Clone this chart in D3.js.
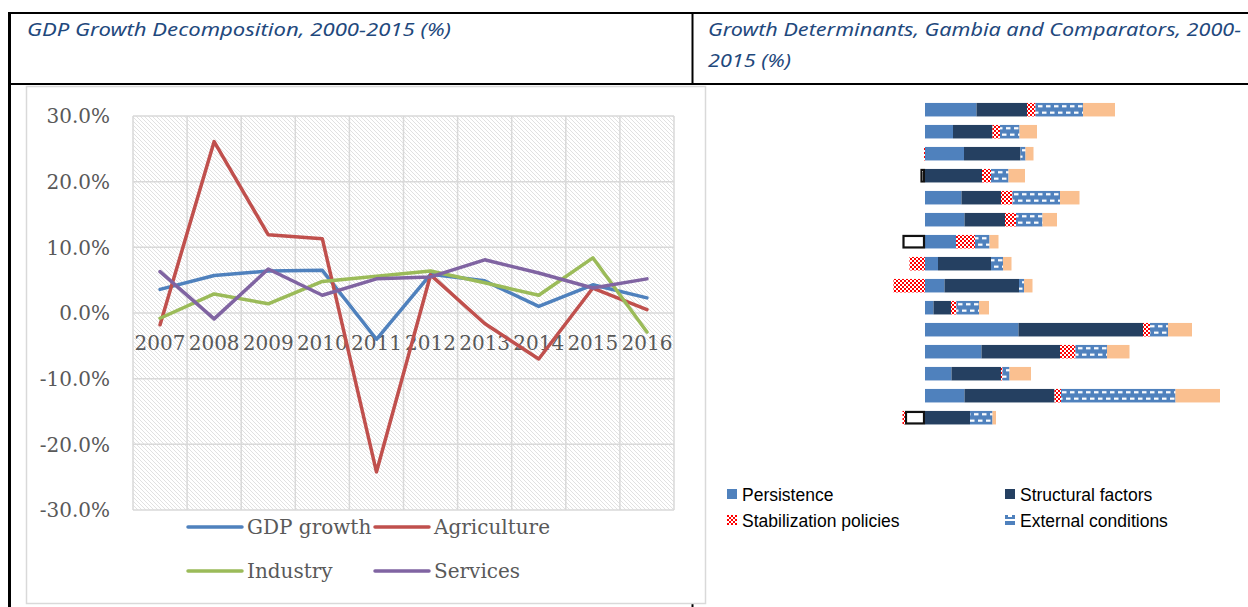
<!DOCTYPE html>
<html><head><meta charset="utf-8">
<script src="https://cdn.jsdelivr.net/npm/d3@7"></script>
<style>html,body{margin:0;padding:0;background:#fff;overflow:hidden}svg{display:block}</style>
</head><body><svg id="c" width="1248" height="607"></svg>
<script>
// ---------- Left chart data ----------
const years = ["2007","2008","2009","2010","2011","2012","2013","2014","2015","2016"];
const gdpGrowth   = [3.6, 5.7, 6.4, 6.5, -4.0, 5.9, 4.9, 1.0, 4.3, 2.3];
const agriculture = [-1.8, 26.1, 11.9, 11.3, -24.2, 5.8, -1.6, -7.0, 3.8, 0.5];
const industry    = [-0.8, 2.9, 1.4, 4.8, 5.6, 6.4, 4.6, 2.7, 8.4, -2.9];
const services    = [6.3, -0.9, 6.7, 2.7, 5.2, 5.5, 8.1, 6.1, 3.8, 5.2];
const yTicks = [30, 20, 10, 0, -10, -20, -30];
const lineSeriesNames = ["GDP growth", "Agriculture", "Industry", "Services"];

// ---------- Right chart data (15 rows, Gambia and comparators) ----------
const rowIds = d3.range(1, 16).map(String);
const persistence   = [1.03, 0.56, 0.78, -0.09, 0.73, 0.79, 0.62, 0.26, 0.39, 0.17, 1.87, 1.13, 0.53, 0.79, -0.40];
const structural    = [1.01, 0.79, 1.13, 1.14, 0.79, 0.81, -0.45, 1.06, 1.49, 0.35, 2.49, 1.57, 0.99, 1.80, 0.90];
const stabilization = [0.17, 0.15, -0.02, 0.18, 0.23, 0.22, 0.38, -0.31, -0.63, 0.11, 0.14, 0.31, 0.03, 0.13, -0.05];
const external      = [0.95, 0.39, 0.10, 0.35, 0.95, 0.53, 0.29, 0.24, 0.10, 0.45, 0.36, 0.63, 0.14, 2.29, 0.45];
const other         = [0.64, 0.35, 0.16, 0.33, 0.39, 0.29, 0.18, 0.17, 0.17, 0.20, 0.48, 0.45, 0.43, 0.89, 0.07];
const barKeys = ["Persistence", "Structural factors", "Stabilization policies", "External conditions", "Other"];
const legendKeys = ["Persistence", "Structural factors", "Stabilization policies", "External conditions"];

const svg = d3.select("#c");
const defs = svg.append("defs");

// hatch pattern for plot area
const hatch = defs.append("pattern").attr("id","hatch").attr("patternUnits","userSpaceOnUse")
  .attr("width",4).attr("height",4);
hatch.append("rect").attr("width",4).attr("height",4).attr("fill","#fff");
hatch.append("path").attr("d","M0,0L4,4M-1,3L1,5M3,-1L5,1").attr("stroke","#d9d9d9").attr("stroke-width",0.8);

// checker pattern
const chk = defs.append("pattern").attr("id","checker").attr("patternUnits","userSpaceOnUse")
  .attr("width",4).attr("height",4);
chk.append("rect").attr("width",4).attr("height",4).attr("fill","#fff");
chk.append("rect").attr("width",2).attr("height",2).attr("fill","#ff0000");
chk.append("rect").attr("x",2).attr("y",2).attr("width",2).attr("height",2).attr("fill","#ff0000");

// ---------- Table frame & headers ----------
const frame = svg.append("g");
frame.append("line").attr("x1",8).attr("x2",1248).attr("y1",13).attr("y2",13).attr("stroke","#000").attr("stroke-width",2);
frame.append("line").attr("x1",8).attr("x2",1248).attr("y1",84).attr("y2",84).attr("stroke","#000").attr("stroke-width",2);
frame.append("line").attr("x1",9.5).attr("x2",9.5).attr("y1",12).attr("y2",607).attr("stroke","#000").attr("stroke-width",3);
frame.append("line").attr("x1",692.5).attr("x2",692.5).attr("y1",12).attr("y2",85).attr("stroke","#000").attr("stroke-width",2);
frame.append("line").attr("x1",692.5).attr("x2",692.5).attr("y1",604).attr("y2",607).attr("stroke","#000").attr("stroke-width",2);

const hdrStyle = s => s.attr("font-family","'Noto Sans', sans-serif").attr("font-style","italic")
  .attr("font-size",18).attr("fill","#1F497D").attr("lengthAdjust","spacingAndGlyphs");
frame.append("text").attr("x",27).attr("y",36).attr("textLength",424).call(hdrStyle)
  .text("GDP Growth Decomposition, 2000-2015 (%)");
frame.append("text").attr("x",708).attr("y",36).attr("textLength",533).call(hdrStyle)
  .text("Growth Determinants, Gambia and Comparators, 2000-");
frame.append("text").attr("x",708).attr("y",67).attr("textLength",83).call(hdrStyle)
  .text("2015 (%)");

// chart box (left)
svg.append("rect").attr("x",26.5).attr("y",86.5).attr("width",679).attr("height",517)
  .attr("fill","none").attr("stroke","#d9d9d9").attr("stroke-width",1.5);

// ---------- Left line chart ----------
const L = {left:133, right:674, top:116, bottom:510};
const x = d3.scaleBand().domain(years).range([L.left, L.right]);
const y = d3.scaleLinear().domain([-30, 30]).range([L.bottom, L.top]);
const lg = svg.append("g");
lg.append("rect").attr("x",L.left).attr("y",L.top).attr("width",L.right-L.left).attr("height",L.bottom-L.top)
  .attr("fill","url(#hatch)");
// grid
const edges = years.map(d => x(d)).concat([L.right]);
lg.selectAll("line.v").data(edges).join("line").attr("class","v")
  .attr("x1",d=>d).attr("x2",d=>d).attr("y1",L.top).attr("y2",L.bottom)
  .attr("stroke","#d9d9d9").attr("stroke-width",1.5);
lg.selectAll("line.h").data(yTicks).join("line").attr("class","h")
  .attr("x1",L.left).attr("x2",L.right).attr("y1",d=>y(d)).attr("y2",d=>y(d))
  .attr("stroke","#d9d9d9").attr("stroke-width",1.5);
// y labels
const fmt = d => d3.format(".1f")(d).replace("\u2212", "-") + "%";
lg.selectAll("text.yl").data(yTicks).join("text").attr("class","yl")
  .attr("x",110).attr("y",d=>y(d)).attr("dy","0.36em").attr("text-anchor","end")
  .attr("font-family","'DejaVu Serif', serif").attr("font-size",20).attr("fill","#595959")
  .text(fmt);
// x labels
lg.selectAll("text.xl").data(years).join("text").attr("class","xl")
  .attr("x",d=>x(d)+x.bandwidth()/2).attr("y",350).attr("text-anchor","middle")
  .attr("font-family","'DejaVu Serif', serif").attr("font-size",20).attr("fill","#595959")
  .text(d=>d);
// lines
const lineData = [gdpGrowth, agriculture, industry, services];
const lineColors = ["#4f81bd", "#c0504d", "#9bbb59", "#8064a2"];
const lineGen = d3.line().x((d,i)=>x(years[i])+x.bandwidth()/2).y(d=>y(d));
lg.selectAll("path.ln").data(lineData).join("path").attr("class","ln")
  .attr("d",lineGen).attr("fill","none").attr("stroke",(d,i)=>lineColors[i])
  .attr("stroke-width",3.5).attr("stroke-linejoin","round").attr("stroke-linecap","round");
// legend
const legPos = [[188,527],[375,527],[188,571],[375,571]];
const lgl = lg.selectAll("g.leg").data(lineSeriesNames).join("g").attr("class","leg")
  .attr("transform",(d,i)=>`translate(${legPos[i][0]},${legPos[i][1]})`);
lgl.append("line").attr("x1",0).attr("x2",54).attr("stroke",(d,i)=>lineColors[i])
  .attr("stroke-width",3.5).attr("stroke-linecap","round");
lgl.append("text").attr("x",59).attr("dy","0.36em")
  .attr("font-family","'DejaVu Serif', serif").attr("font-size",20).attr("fill","#595959").text(d=>d);

// ---------- Right stacked bar chart ----------
const rows = rowIds.map((id,i)=>({id,
  "Persistence":persistence[i], "Structural factors":structural[i],
  "Stabilization policies":stabilization[i], "External conditions":external[i], "Other":other[i]}));
const stacked = d3.stack().keys(barKeys).offset(d3.stackOffsetDiverging)(rows);
const xb = d3.scaleLinear().domain([0, 6]).range([925, 1225]);
const yb = d3.scaleBand().domain(rowIds).range([98.7, 428.7]).paddingInner(0.386).paddingOuter(0.193);

// dash pattern aligned to bar tops
const dash = defs.append("pattern").attr("id","dash").attr("patternUnits","userSpaceOnUse")
  .attr("x", xb(0)).attr("y", yb(rowIds[0])).attr("width",8).attr("height",yb.step());
dash.append("rect").attr("width",8).attr("height",yb.step()).attr("fill","#4f81bd");
dash.append("rect").attr("x",1).attr("y",2.2).attr("width",4.5).attr("height",2.2).attr("fill","#fff");
dash.append("rect").attr("x",5).attr("y",8.6).attr("width",4.5).attr("height",2.2).attr("fill","#fff");
dash.append("rect").attr("x",-3).attr("y",8.6).attr("width",4.5).attr("height",2.2).attr("fill","#fff");

const barFill = {"Persistence":"#4f81bd","Structural factors":"#254061",
  "Stabilization policies":"url(#checker)","External conditions":"url(#dash)","Other":"#fac090"};
const rb = svg.append("g");
stacked.forEach(s => {
  const key = s.key;
  const inverted = (key === "Persistence" || key === "Structural factors");
  rb.selectAll(null).data(s.filter(d => d[1] !== d[0])).join("rect")
    .each(function(d){
      const x0 = xb(Math.min(d[0], d[1])), x1 = xb(Math.max(d[0], d[1]));
      const neg = d.data[key] < 0;
      const r = d3.select(this);
      if (inverted && neg) {
        r.attr("x", x0+1).attr("y", yb(d.data.id)+1).attr("width", Math.max(0, x1-x0-2))
         .attr("height", yb.bandwidth()-2).attr("fill","#fff").attr("stroke","#111").attr("stroke-width",2.2);
      } else {
        r.attr("x", x0).attr("y", yb(d.data.id)).attr("width", x1-x0)
         .attr("height", yb.bandwidth()).attr("fill", barFill[key]);
      }
    });
});

// right legend
const rlPos = [[727,489],[1005,489],[727,515],[1005,515]];
const rl = svg.append("g").selectAll("g").data(legendKeys).join("g")
  .attr("transform",(d,i)=>`translate(${rlPos[i][0]},${rlPos[i][1]})`);
rl.each(function(d){
  const g = d3.select(this);
  if (d === "External conditions") {
    g.append("rect").attr("width",10).attr("height",10).attr("fill","#4f81bd");
    g.append("rect").attr("x",0).attr("y",4).attr("width",10).attr("height",2).attr("fill","#fff");
    g.append("rect").attr("x",3).attr("y",0).attr("width",4).attr("height",2).attr("fill","#fff");
  } else {
    g.append("rect").attr("width",10).attr("height",10).attr("fill",barFill[d]);
  }
  g.append("text").attr("x",15).attr("y",11.5)
    .attr("font-family","'Liberation Sans', Arial, sans-serif").attr("font-size",17.5).attr("fill","#000").text(d);
});
</script></body></html>
